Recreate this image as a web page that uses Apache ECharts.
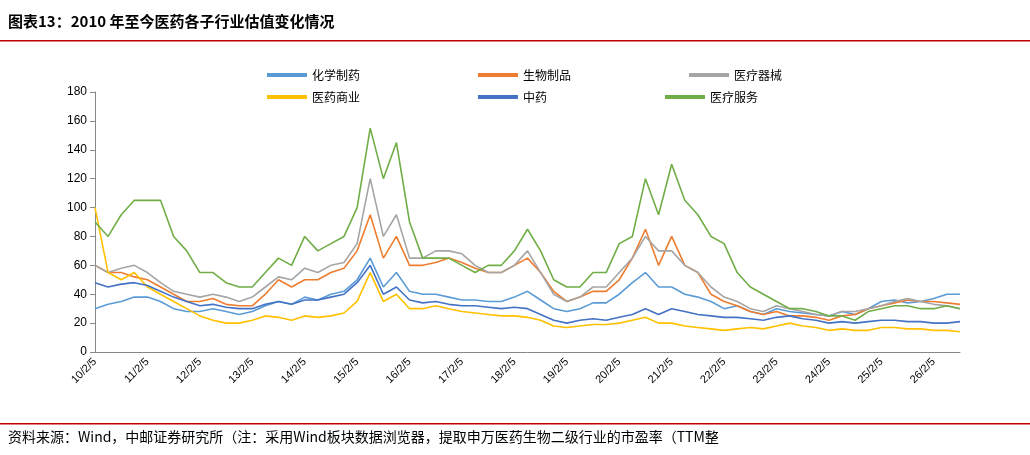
<!DOCTYPE html>
<html><head><meta charset="utf-8">
<script src="https://cdn.jsdelivr.net/npm/echarts@6/dist/echarts.min.js"></script>
<style>html,body{margin:0;padding:0;background:#fff}#c{width:1030px;height:455px}</style>
</head><body><div id="c"></div>
<script>
const months=[2,5,8,11];
const categories=[];
for(let y=2010;y<=2026;y++){for(const m of months){if(y===2026&&m>8)break;categories.push((y%100).toString().padStart(2,'0')+'/'+m+'/5');}}
const chem=[30,33,35,38,38,35,30,28,28,30,28,26,28,32,35,33,38,36,40,42,50,65,45,55,42,40,40,38,36,36,35,35,38,42,36,30,28,30,34,34,40,48,55,45,45,40,38,35,30,32,28,26,30,28,27,26,25,28,26,30,35,36,34,35,37,40,40];
const bio=[60,55,55,52,50,45,40,35,35,37,33,32,32,40,50,45,50,50,55,58,70,95,65,80,60,60,62,65,62,58,55,55,60,65,55,42,35,38,42,42,50,65,85,60,80,60,55,40,35,32,28,26,28,25,25,24,22,25,26,30,32,34,36,35,35,34,33];
const device=[60,55,58,60,55,48,42,40,38,40,38,35,38,45,52,50,58,55,60,62,75,120,80,95,65,65,70,70,68,60,55,55,60,70,55,40,35,38,45,45,55,65,80,70,70,60,55,45,38,35,30,28,32,30,28,26,25,28,28,30,32,35,37,35,33,32,30];
const commerce=[100,55,50,55,45,40,35,30,25,22,20,20,22,25,24,22,25,24,25,27,35,55,35,40,30,30,32,30,28,27,26,25,25,24,22,18,17,18,19,19,20,22,24,20,20,18,17,16,15,16,17,16,18,20,18,17,15,16,15,15,17,17,16,16,15,15,14];
const tcm=[48,45,47,48,46,42,38,35,32,33,31,30,30,33,35,33,36,36,38,40,48,60,40,45,36,34,35,33,32,32,31,30,31,30,26,22,20,22,23,22,24,26,30,26,30,28,26,25,24,24,23,22,24,25,23,22,20,21,20,21,22,22,21,21,20,20,21];
const service=[90,80,95,105,105,105,80,70,55,55,48,45,45,55,65,60,80,70,75,80,100,155,120,145,90,65,65,65,60,55,60,60,70,85,70,50,45,45,55,55,75,80,120,95,130,105,95,80,75,55,45,40,35,30,30,28,25,25,22,28,30,32,32,30,30,32,30];
const names=['化学制药','生物制品','医疗器械','医药商业','中药','医疗服务'];
const colors=['#5B9BD5','#ED7D31','#A5A5A5','#FFC000','#4472C4','#70AD47'];
const datas=[chem,bio,device,commerce,tcm,service];
const yTicks=[0,20,40,60,80,100,120,140,160,180];
const font='"Noto Sans CJK SC", sans-serif';
const chart=echarts.init(document.getElementById('c'));
const lg=(data,top)=>({data,top,left:262,itemGap:118,icon:'rect',itemWidth:40,itemHeight:4,textStyle:{fontSize:12,fontFamily:font,color:'#000',width:50}});
chart.setOption({
 animation:false,
 legend:[lg(names.slice(0,3),64),lg(names.slice(3),86)],
 grid:{left:95,right:70,top:92,bottom:103},
 xAxis:{type:'category',data:categories,boundaryGap:false,
  axisLine:{lineStyle:{color:'#888'}},axisTick:{show:false},
  axisLabel:{interval:(i,v)=>v.indexOf('/2/5')>0,rotate:45,fontSize:11,color:'#000',fontFamily:'Liberation Sans'}},
 yAxis:{type:'value',min:yTicks[0],max:yTicks[yTicks.length-1],interval:20,splitLine:{show:false},
  axisLine:{show:true,lineStyle:{color:'#888'}},axisTick:{show:true,lineStyle:{color:'#888'}},
  axisLabel:{fontSize:12,color:'#000',fontFamily:'Liberation Sans'}},
 series:datas.map((d,i)=>({name:names[i],type:'line',data:d,showSymbol:false,symbol:'none',lineStyle:{width:1.6,color:colors[i]},itemStyle:{color:colors[i]}})),
 graphic:[
  {type:'text',left:8,top:14,style:{text:'图表13：2010 年至今医药各子行业估值变化情况',font:'bold 15px '+font,fill:'#000'}},
  {type:'rect',shape:{x:0,y:40,width:1030,height:1.5},style:{fill:'#C00000'}},
  {type:'rect',shape:{x:0,y:423,width:1030,height:1.5},style:{fill:'#C00000'}},
  {type:'text',left:8,top:430,style:{text:'资料来源：Wind，中邮证券研究所（注：采用Wind板块数据浏览器，提取申万医药生物二级行业的市盈率（TTM整',font:'14px '+font,fill:'#000'}}
 ]
});
</script></body></html>
